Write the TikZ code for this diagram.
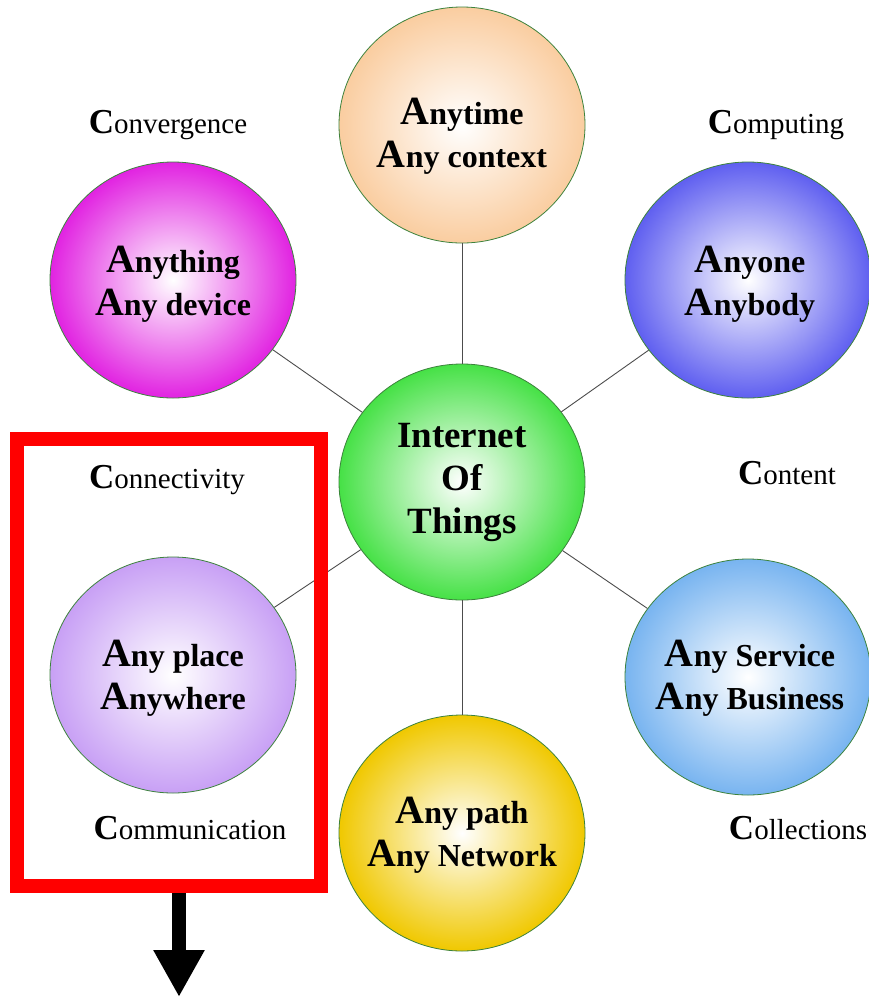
\documentclass[tikz,border=0pt]{standalone}
\usepackage{fontspec}
\setmainfont{Liberation Serif}
\usetikzlibrary{shapes.geometric,arrows.meta}
\definecolor{cpeach}{RGB}{250,205,160}
\definecolor{cmag}{RGB}{225,35,225}
\definecolor{cblue}{RGB}{95,95,240}
\definecolor{cgreen}{RGB}{70,225,70}
\definecolor{clav}{RGB}{200,160,245}
\definecolor{clblue}{RGB}{120,180,240}
\definecolor{cyel}{RGB}{240,200,0}
\definecolor{cedge}{RGB}{60,130,60}
\newcommand\firstA[1]{{\fontsize{40}{43}\selectfont #1}}
\newcommand\firstC[1]{{\bfseries\fontsize{35}{30}\selectfont #1}}
\tikzset{
  bub/.style={ellipse, minimum width=246pt, minimum height=236pt, inner sep=0pt,
    draw=cedge, line width=0.8pt, inner color=white, outer color=#1},
  btext/.style={align=center, inner sep=0pt, font=\bfseries\fontsize{32}{43}\selectfont},
  lab/.style={font=\fontsize{29}{30}\selectfont, inner sep=0pt, anchor=base},
  conn/.style={draw=black!70, line width=0.9pt}
}
\begin{document}
\begin{tikzpicture}[x=1pt,y=-1pt]
\path[use as bounding box] (0,0) rectangle (869,997);
\node[bub=cgreen] (iot) at (462,482) {};
\node[btext, font=\bfseries\fontsize{37}{43}\selectfont] (iott) at (462,482) {Internet\\Of\\Things};
\node[bub=cpeach] (top) at (462,125) {};
\node[btext] (topt) at (462,136) {\firstA{A}nytime\\\firstA{A}ny context};
\node[bub=cmag] (tl) at (173,280) {};
\node[btext] (tlt) at (173,284) {\firstA{A}nything\\\firstA{A}ny device};
\node[bub=cblue] (tr) at (748,280) {};
\node[btext] (trt) at (750,284) {\firstA{A}nyone\\\firstA{A}nybody};
\node[bub=clav] (bl) at (173,675) {};
\node[btext] (blt) at (173,678) {\firstA{A}ny place\\\firstA{A}nywhere};
\node[bub=clblue] (br) at (748,677) {};
\node[btext] (brt) at (750,678) {\firstA{A}ny Service\\\firstA{A}ny Business};
\node[bub=cyel] (bot) at (462,833) {};
\node[btext] (bott) at (462,835) {\firstA{A}ny path\\\firstA{A}ny Network};
\foreach \n in {top,tl,tr,bl,br,bot} \draw[conn] (iot) -- (\n);
\node[lab] (l1) at (168,133) {\firstC{C}onvergence};
\node[lab] (l2) at (776,133) {\firstC{C}omputing};
\node[lab] (l3) at (167,488) {\firstC{C}onnectivity};
\node[lab] (l4) at (787,484) {\firstC{C}ontent};
\node[lab] (l5) at (190,839) {\firstC{C}ommunication};
\node[lab] (l6) at (798,839) {\firstC{C}ollections};
\coordinate (as) at (179,880);
\coordinate (at) at (179,997);
\draw[line width=14pt, -{Triangle[width=48pt,length=47pt]}] (as) -- (at);
\node[draw=red, line width=14pt, minimum width=304pt, minimum height=447pt, inner sep=0pt] (box) at (169,662.5) {};
\end{tikzpicture}
\end{document}
